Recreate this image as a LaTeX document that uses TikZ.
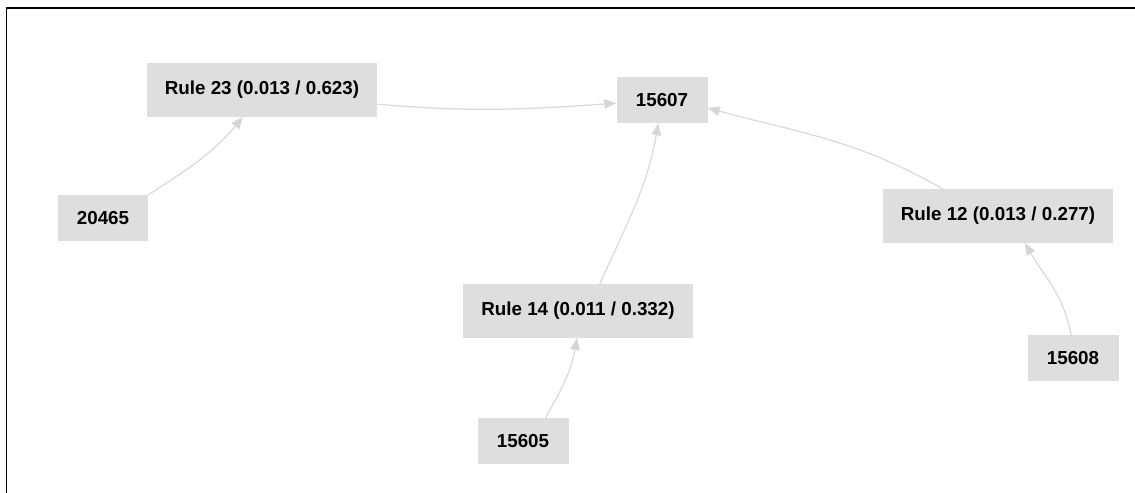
\documentclass[tikz,border=0pt]{standalone}
\usepackage{fontspec}
\setmainfont{Liberation Sans}
\usetikzlibrary{arrows.meta}

\begin{document}
\begin{tikzpicture}[x=0.02cm,y=0.02cm,
  every node/.style={fill=black!13, inner sep=0pt, outer sep=0pt, text=black,
    font=\bfseries\fontsize{10.7}{12}\selectfont},
  item/.style={minimum width=1.82cm, minimum height=0.92cm},
  rule/.style={minimum width=4.62cm, minimum height=1.07cm},
  link/.style={draw=black!15, line width=0.7pt, -{Triangle[length=7pt,width=5.5pt,fill=black!17]}}]

\useasboundingbox (0,0) rectangle (1135,493);
\draw[line width=0.85pt] (6.5,0) -- (6.5,485) -- (1135,485);

\node[item] (n15607) at (662,393) {15607};
\node[rule] (r23) at (262,403) {Rule 23 (0.013 / 0.623)};
\node[item] (n20465) at (103,275) {20465};
\node[rule] (r14) at (578,182) {Rule 14 (0.011 / 0.332)};
\node[item] (n15605) at (523,52) {15605};
\node[rule] (r12) at (998,277) {Rule 12 (0.013 / 0.277)};
\node[item] (n15608) at (1073,135) {15608};

\draw[link] (n20465.27) to[out=33,in=-130] (r23.-125);
\draw[link] (r23.-7) to[out=-5,in=184] (n15607.184);
\draw[link] (n15605.46) to[out=60,in=-100] (r14.-92);
\draw[link] (r14.51) to[out=66,in=-100] (n15607.-99);
\draw[link] (r12.154) to[out=150,in=-15] (n15607.-10);
\draw[link] (n15608.95) to[out=100,in=-60] (r12.-45);
\end{tikzpicture}
\end{document}
